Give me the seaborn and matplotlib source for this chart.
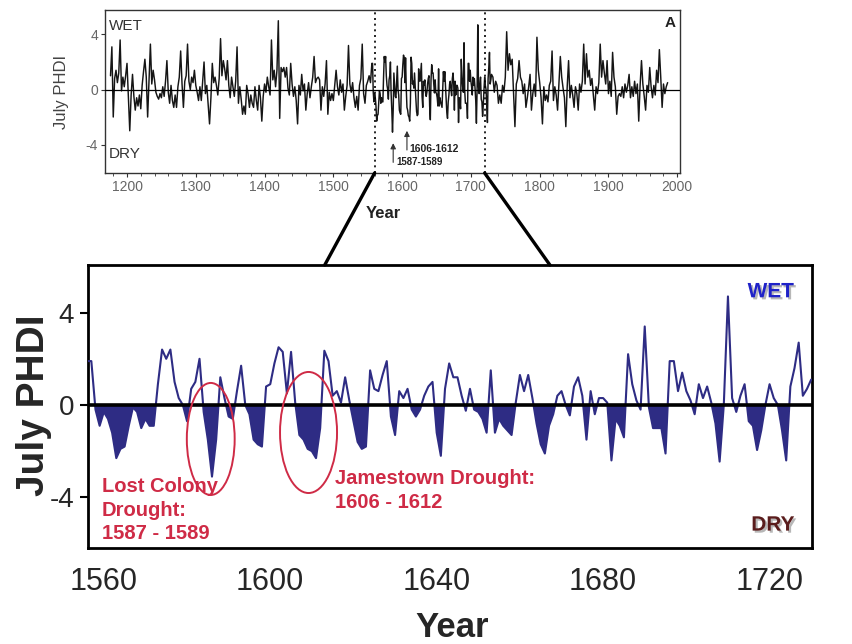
import matplotlib
matplotlib.use("Agg")
import numpy as np
import pandas as pd
import matplotlib.pyplot as plt
import seaborn as sns
from matplotlib.patches import Ellipse, ConnectionPatch
import matplotlib.patheffects as pe

# ---------------- data ----------------
# annual July PHDI, 1556-1730 (zoomed panel)
zoom_start = 1556
zoom_phdi = [
    1.9, 1.9, -0.2, -0.9, -0.3, -0.6, -1.2, -2.3, -1.9, -1.8,     # 1556
    -0.9, -0.1, -0.3, -1.0, -0.6, -0.9, -0.9, 0.9, 2.4, 2.0,      # 1566
    2.4, 1.0, 0.3, 0.0, -0.7, 0.7, 1.0, 2.0, -0.3, -1.5,          # 1576
    -3.1, -1.5, 1.2, 0.3, -0.5, -0.6, 0.6, 1.7, 0.0, -0.4,        # 1586
    -1.5, -1.7, -1.8, 0.8, 0.9, 1.8, 2.5, 2.3, 0.5, 2.3,          # 1596
    0.1, -1.3, -1.5, -1.9, -2.0, -2.3, -1.0, 2.35, 1.9, 0.4,      # 1606
    0.6, 0.1, 1.2, 0.2, -0.7, -1.6, -1.9, -1.8, 1.5, 0.7,         # 1616
    0.6, 1.3, 1.9, -0.5, -1.3, 0.6, 0.3, 0.7, -0.2, -0.5,         # 1626
    -0.2, 0.4, 0.8, 1.0, -1.2, -2.2, 0.7, 1.8, 1.2, 1.2,          # 1636
    0.4, -0.25, 0.7, -0.2, -0.3, -0.6, -1.2, 1.5, -1.2, -0.6,     # 1646
    -0.9, -1.1, -1.3, 0.1, 1.3, 0.6, 1.3, 0.3, -0.8, -1.7,        # 1656
    -2.1, -0.9, -0.4, 0.4, 0.6, 0.0, -0.45, 0.8, 1.2, 0.4,        # 1666
    -1.5, 0.6, -0.4, 0.3, 0.3, 0.1, -2.4, -0.6, -0.9, -1.4,       # 1676
    2.2, 0.9, 0.2, -0.2, 3.4, -0.1, -1.0, -1.0, -1.0, -2.1,       # 1686
    1.9, 1.9, 0.6, 1.4, 0.6, 0.2, -0.4, 0.9, 0.3, 0.8,            # 1696
    0.1, -0.8, -2.45, 0.0, 4.7, 0.3, -0.3, 0.4, 0.9, -0.7,        # 1706
    -0.9, -1.95, -1.1, 0.0, 0.9, 0.3, 0.0, -1.1, -2.4, 0.8,       # 1716
    1.6, 2.7, 0.4, 0.7, 1.1,                                      # 1726
]
zoom_years = list(range(zoom_start, zoom_start + len(zoom_phdi)))

# long record, read every second year, before and after the zoomed window
early_years = list(range(1176, 1555, 2))
early_phdi = [
    1.0, 3.1, -2.0, 0.8, 1.4, 0.5, 1.2, 3.6, -0.1, 0.9,
    0.2, 1.0, 1.9, -0.6, -3.0, -0.4, 1.1, -0.5, -1.5, -0.6,
    -1.2, -0.4, -1.4, 0.3, 1.3, 2.2, 0.9, -2.0, 0.6, 3.3,
    0.4, 1.4, 0.7, -0.2, -0.5, -0.7, -0.3, -0.6, 0.2, -0.5,
    0.6, 2.1, -0.2, -1.0, 0.3, -0.8, -1.3, -0.4, -1.3, 0.2,
    0.9, 2.8, 0.4, -1.3, 0.6, 1.0, 3.3, 0.6, 0.0, 0.9,
    0.5, 1.4, 0.3, -0.2, -0.8, 0.2, -0.8, 0.6, 2.0, -0.3,
    0.3, -1.1, -2.5, -0.6, 1.9, 0.5, 0.9, 0.3, -0.4, 0.8,
    3.7, 1.0, 2.1, 1.5, 0.7, 2.1, 0.3, -0.6, 0.9, 0.2,
    -0.5, 0.6, 3.1, -1.0, 0.2, -0.7, -1.8, -1.2, -1.8, 0.3,
    -0.3, -1.3, -0.4, -1.0, -1.3, 0.2, -0.8, -1.5, 0.3, -0.6,
    -2.3, -0.5, 0.4, -0.2, 0.9, 0.2, -0.4, 3.6, 0.7, 1.4,
    0.2, 1.4, 5.0, -2.1, 1.6, 1.3, 1.6, 0.9, 1.6, 0.1,
    -0.4, 1.9, 0.4, -0.5, 0.2, -0.8, -2.5, 0.3, -0.4, 1.1,
    -0.1, 0.4, -1.5, -0.3, 0.5, -0.6, 0.2, 0.9, 2.4, 0.5,
    0.8, 0.9, 0.7, -1.5, 0.2, -0.5, 0.4, 2.1, -1.8, -0.2,
    -0.8, -0.3, -0.8, 0.3, 1.4, 0.2, -0.4, 0.7, -0.2, 0.4,
    -1.5, -0.5, 0.3, 3.2, 0.4, -0.2, 0.5, -0.6, -1.3, -0.5,
    -1.5, 0.3, 0.8, 3.3, -0.3, -1.0, 0.3, 0.6, 1.0, 0.5,
]
late_years = list(range(1732, 1987, 2))
late_phdi = [
    0.9, -0.2, 0.6, 0.3, -1.0, -0.4, -1.0, 0.3, -0.2, 0.9,
    4.2, 1.4, 2.6, 1.8, 2.2, -0.3, -2.7, 0.4, 0.8, 2.1,
    0.9, 0.6, -0.3, 0.4, -1.3, -0.6, 0.2, 1.1, -1.5, -0.3,
    0.4, -0.5, 3.8, 1.4, 0.5, -0.6, -2.5, 0.2, -0.8, -0.4,
    -0.9, 0.3, 0.6, 2.8, -0.8, 0.2, -0.4, -1.5, 0.5, 2.4,
    0.9, 0.1, -0.6, -2.7, 0.2, 2.1, -0.6, 0.3, -0.4, -1.3,
    0.2, -0.3, -1.5, 0.4, -0.2, 0.6, 3.3, 0.4, 2.6, 0.9,
    1.4, 0.3, 0.8, -0.4, -1.5, 0.2, -0.3, 0.5, 3.3, 0.9,
    2.1, 1.2, 0.4, 2.1, -0.3, 0.6, -0.5, 2.7, 0.9, 0.2,
    -1.8, -0.5, -0.3, -0.5, 0.2, -0.6, 0.4, -0.2, 0.3, 1.1,
    -0.6, 0.2, -0.5, 0.6, -0.3, 0.4, -2.3, 0.3, 2.1, 0.4,
    -0.5, -1.5, 0.3, -0.2, 1.6, 0.2, -0.6, 0.3, -0.4, 1.4,
    0.5, 2.9, 0.9, -1.3, 0.4, -0.3, 0.2, 0.5,
]

top_ticks = [1200, 1300, 1400, 1500, 1600, 1700, 1800, 1900, 2000]
bottom_ticks = [1560, 1600, 1640, 1680, 1720]
phdi_ticks = [-4, 0, 4]
window = (1560, 1720)
drought_labels = ["Lost Colony\nDrought:\n1587 - 1589", "Jamestown Drought:\n1606 - 1612"]

# ---------------- style ----------------
sns.set_style("white")
plt.rcParams['font.family'] = ['Liberation Sans', 'DejaVu Sans']

NAVY = "#2e2c84"
RED = "#cf2b46"

fig = plt.figure(figsize=(8.52, 6.44), dpi=100)
W, H = 852.0, 644.0
ax_top = fig.add_axes([105 / W, 1 - 173 / H, 575 / W, 163 / H])
ax = fig.add_axes([88 / W, 1 - 548 / H, 724 / W, 283 / H])

# ---------------- top panel ----------------
top_df = pd.DataFrame({
    "year": early_years + zoom_years + late_years,
    "phdi": early_phdi + zoom_phdi + late_phdi,
})
sns.lineplot(data=top_df, x="year", y="phdi", ax=ax_top, color="#151515",
             lw=1.05, estimator=None, sort=True)
ax_top.axhline(0, color="black", lw=0.9, zorder=3)
ax_top.set_xlim(1168, 2004)
ax_top.set_ylim(-6.07, 5.78)
ax_top.set_xticks(top_ticks)
ax_top.set_xticks(list(range(1180, 2004, 20)), minor=True)
ax_top.set_yticks(phdi_ticks)
ax_top.set_yticklabels([str(v) for v in phdi_ticks])
ax_top.tick_params(axis="both", which="major", labelsize=10, labelcolor="#666666",
                   direction="out", length=3, width=0.8, color="#333333", pad=2,
                   bottom=True, left=True)
ax_top.tick_params(axis="x", which="minor", direction="out", length=2, width=0.6,
                   color="#333333", bottom=True)
for s in ax_top.spines.values():
    s.set_linewidth(1.0)
    s.set_color("#333333")
for yr in window:
    ax_top.axvline(yr, color="black", ls=(0, (1.2, 2.2)), lw=1.2, zorder=4)
ax_top.set_xlabel("Year", fontsize=12, fontweight="bold", color="#222222")
ax_top.xaxis.set_label_coords((383 - 105) / 575, (173 - 206) / 163)
ax_top.set_ylabel("July PHDI", fontsize=12, color="#444444")
ax_top.yaxis.set_label_coords(-0.062, 0.5)
ax_top.text(0.006, 0.90, "WET", transform=ax_top.transAxes, fontsize=11,
            color="#333333", va="center", ha="left")
ax_top.text(0.006, 0.115, "DRY", transform=ax_top.transAxes, fontsize=11,
            color="#333333", va="center", ha="left")
ax_top.text(0.983, 0.923, "A", transform=ax_top.transAxes, fontsize=11,
            fontweight="bold", color="#222222", va="center", ha="center")
ax_top.annotate("", xy=(1587, -3.7), xytext=(1587, -5.5),
                arrowprops=dict(arrowstyle="-|>", color="#333333", lw=0.8,
                                mutation_scale=8))
ax_top.annotate("", xy=(1607, -2.8), xytext=(1607, -4.6),
                arrowprops=dict(arrowstyle="-|>", color="#333333", lw=0.8,
                                mutation_scale=8))
ax_top.text(1592, -5.3, "1587-1589", fontsize=7, fontweight="bold",
            color="#222222", va="center", ha="left")
ax_top.text(1611, -4.33, "1606-1612", fontsize=7.5, fontweight="bold",
            color="#222222", va="center", ha="left")

# ---------------- bottom panel ----------------
zoom_df = pd.DataFrame({"year": zoom_years, "phdi": zoom_phdi})
yrs = np.array(zoom_years, dtype=float)
vals = np.array(zoom_phdi, dtype=float)
ax.fill_between(yrs, vals, 0, where=vals < 0, interpolate=True,
                color=NAVY, lw=0, zorder=2)
sns.lineplot(data=zoom_df, x="year", y="phdi", ax=ax, color=NAVY, lw=1.5,
             estimator=None, sort=True, zorder=3)
ax.axhline(0, color="black", lw=2.6, zorder=4)
ax.set_xlim(1556.2, 1730.2)
ax.set_ylim(-6.19, 6.06)
ax.set_xticks(bottom_ticks)
ax.set_yticks(phdi_ticks)
ax.set_yticklabels([str(v) for v in phdi_ticks])
ax.tick_params(axis="x", labelsize=22, length=0, pad=14)
ax.tick_params(axis="y", labelsize=20, direction="out", length=6, width=1.5,
               color="black", left=True, pad=4)
for s in ax.spines.values():
    s.set_linewidth(2.0)
    s.set_color("black")
ax.set_xlabel("Year", fontsize=25, fontweight="bold")
ax.xaxis.set_label_coords(0.503, -0.222)
ax.set_ylabel("July PHDI", fontsize=28, fontweight="bold")
ax.yaxis.set_label_coords(-0.05, 0.505)

# drought ellipses and labels
ax.add_patch(Ellipse((1585.7, -1.47), 11.5, 4.85, fill=False,
                     edgecolor=RED, lw=1.4, zorder=5))
ax.add_patch(Ellipse((1609.2, -1.19), 13.7, 5.24, fill=False,
                     edgecolor=RED, lw=1.4, zorder=5))
ax.text(1559.5, -3.12, drought_labels[0], fontsize=14.5, fontweight="bold",
        color=RED, va="top", ha="left", linespacing=1.3, zorder=6)
ax.text(1615.5, -2.78, drought_labels[1], fontsize=14.5, fontweight="bold",
        color=RED, va="top", ha="left", linespacing=1.3, zorder=6)

shadow = [pe.withSimplePatchShadow(offset=(1.5, -1.5), shadow_rgbFace="#888888",
                                   alpha=0.6)]
ax.text(1720.3, 4.9, "WET", fontsize=15, fontweight="bold", color="#1f22c8",
        ha="center", va="center", path_effects=shadow, zorder=6)
ax.text(1720.8, -5.2, "DRY", fontsize=15, fontweight="bold", color="#5a1c1c",
        ha="center", va="center", path_effects=shadow, zorder=6)

# zoom connectors
for yr, xb in zip(window, (0.327, 0.638)):
    con = ConnectionPatch(xyA=(yr, ax_top.get_ylim()[0]), coordsA="data", axesA=ax_top,
                          xyB=(xb, 1.0), coordsB="axes fraction", axesB=ax,
                          color="black", lw=2.4)
    fig.add_artist(con)

fig.savefig("out.png", dpi=100)
